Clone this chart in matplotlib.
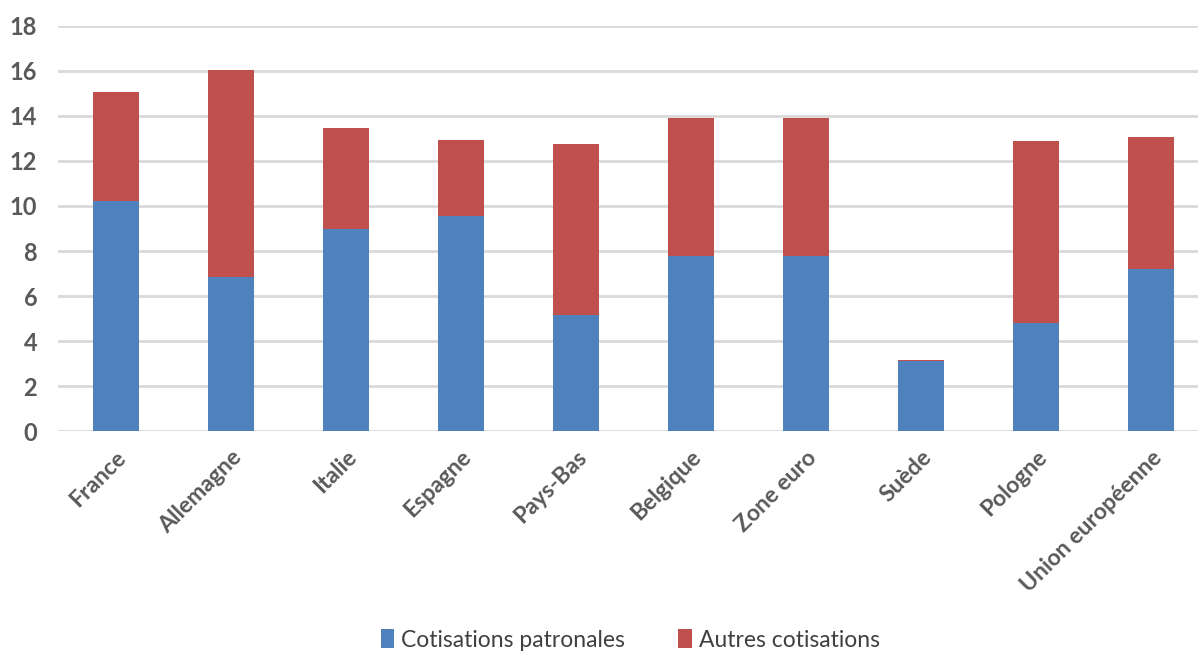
import matplotlib
matplotlib.use('Agg')
import matplotlib.pyplot as plt
import numpy as np


matplotlib.rcParams['font.family'] = ['Lato', 'DejaVu Sans']

pays = ['France', 'Allemagne', 'Italie', 'Espagne', 'Pays-Bas', 'Belgique',
        'Zone euro', 'Suède', 'Pologne', 'Union européenne']
patronales = [10.2, 6.85, 8.97, 9.56, 5.15, 7.8, 7.8, 3.13, 4.81, 7.2]
autres = [4.85, 9.2, 4.51, 3.38, 7.62, 6.09, 6.09, 0.05, 8.08, 5.86]
yticks = [0, 2, 4, 6, 8, 10, 12, 14, 16, 18]

BLUE = '#4F81BD'
RED = '#C0504D'
GREY = '#595959'


def cotisations():
    fig = plt.figure(figsize=(11.98, 6.55), dpi=100)
    ax = fig.add_axes([58 / 1198, 0.3415, 1 - 58 / 1198, 0.6193])

    x = np.arange(len(pays))
    ax.bar(x, patronales, 0.4, color=BLUE, label='Cotisations patronales', zorder=3)
    ax.bar(x, autres, 0.4, bottom=patronales, color=RED, label='Autres cotisations', zorder=3)

    ax.set_xlim(-0.5, 9.41)
    ax.set_ylim(0, 18)
    ax.set_yticks(yticks)
    ax.yaxis.grid(True, color='#D9D9D9', linewidth=2, zorder=0)
    for s in ax.spines.values():
        s.set_visible(False)
    ax.tick_params(axis='both', length=0, colors=GREY)
    ax.tick_params(axis='y', pad=15, labelsize=17)
    for lab in ax.get_yticklabels():
        lab.set_fontweight('bold')

    ax.set_xticks(x)
    ax.set_xticklabels(pays, rotation=45, ha='right', rotation_mode='anchor',
                       fontsize=16.5, fontweight='bold', color=GREY)
    ax.tick_params(axis='x', pad=11)

    fig.legend(loc='lower center', bbox_to_anchor=(0.526, -0.025), ncol=2,
               frameon=False, fontsize=16.5, handlelength=0.6, handleheight=0.9,
               handletextpad=0.3, columnspacing=2.3, labelcolor='#404040')

    fig.savefig('out.png', dpi=100)


if __name__ == '__main__':
    cotisations()
